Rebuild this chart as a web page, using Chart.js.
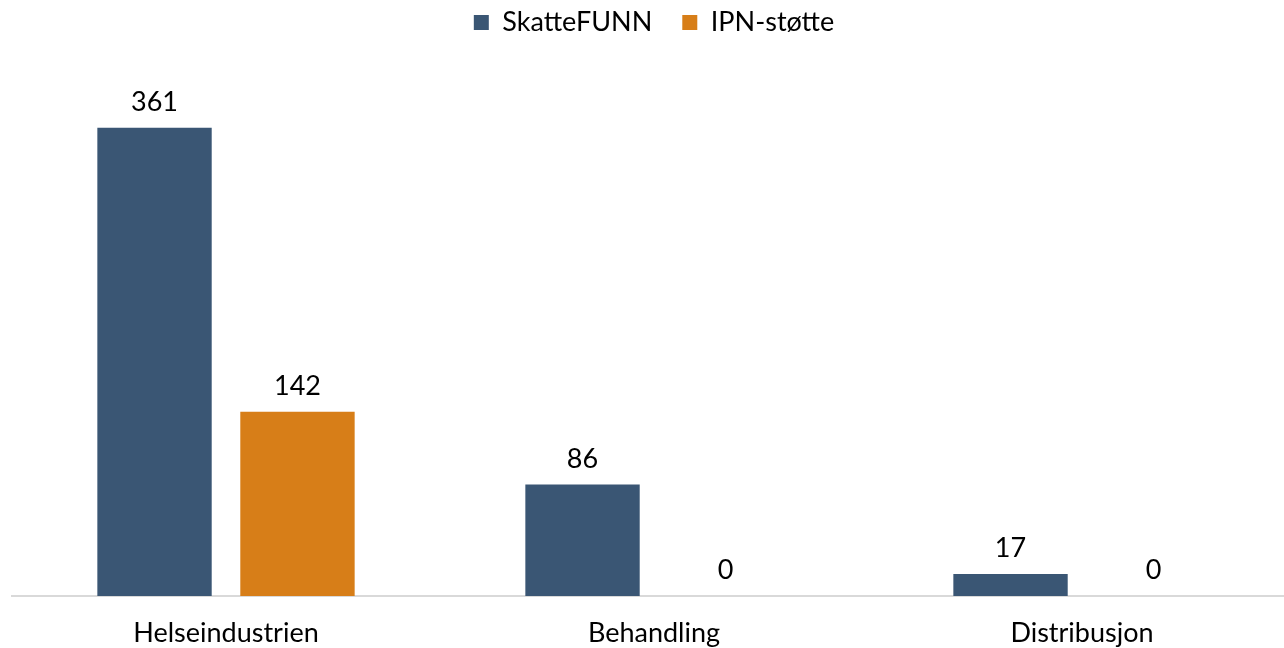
<!DOCTYPE html>
<html>
<head>
<meta charset="utf-8">
<script src="https://cdn.jsdelivr.net/npm/chart.js@4.4.1/dist/chart.umd.min.js"></script>
<style>
  html, body { margin: 0; padding: 0; background: #fff; overflow: hidden; }
  /* plot runs slightly past the right edge, like the original */
  #wrap { width: 1296px; height: 648px; }
</style>
</head>
<body>
<div id="wrap"><canvas id="supportChart"></canvas></div>
<script>
  const categories = ["Helseindustrien", "Behandling", "Distribusjon"];
  const skattefunn = [361, 86, 17];
  const ipnStotte = [142, 0, 0];

  // draws the value above each bar
  const barValues = {
    id: "barValues",
    afterDatasetsDraw(chart) {
      const ctx = chart.ctx;
      ctx.save();
      ctx.font = "27px Lato";
      ctx.fillStyle = "#000";
      ctx.textAlign = "center";
      ctx.textBaseline = "bottom";
      chart.data.datasets.forEach((ds, i) => {
        chart.getDatasetMeta(i).data.forEach((bar, j) => {
          ctx.fillText(ds.data[j], bar.x, bar.y - 12);
        });
      });
      ctx.restore();
    }
  };

  new Chart(document.getElementById("supportChart"), {
    type: "bar",
    data: {
      labels: categories,
      datasets: [
        { label: "SkatteFUNN", data: skattefunn, backgroundColor: "#3A5674" },
        { label: "IPN-støtte", data: ipnStotte, backgroundColor: "#D77E18" }
      ]
    },
    options: {
      responsive: true,
      maintainAspectRatio: false,
      animation: false,
      categoryPercentage: 0.668,
      barPercentage: 0.8,
      layout: { padding: { left: 12, right: 0, top: -21, bottom: 0 } },
      plugins: {
        legend: {
          labels: {
            font: { family: "Lato", size: 27 },
            color: "#000",
            boxWidth: 15,
            boxHeight: 15,
            padding: 30
          }
        },
        tooltip: { enabled: false }
      },
      scales: {
        x: {
          grid: { display: false, drawTicks: false },
          border: { display: true, color: "#d9d9d9", width: 2 },
          ticks: { font: { family: "Lato", size: 27 }, color: "#000", padding: 21 },
          afterFit(scale) { scale.height = 52; }
        },
        y: {
          display: false,
          min: 0,
          max: 424
        }
      }
    },
    plugins: [barValues]
  });
</script>
</body>
</html>
